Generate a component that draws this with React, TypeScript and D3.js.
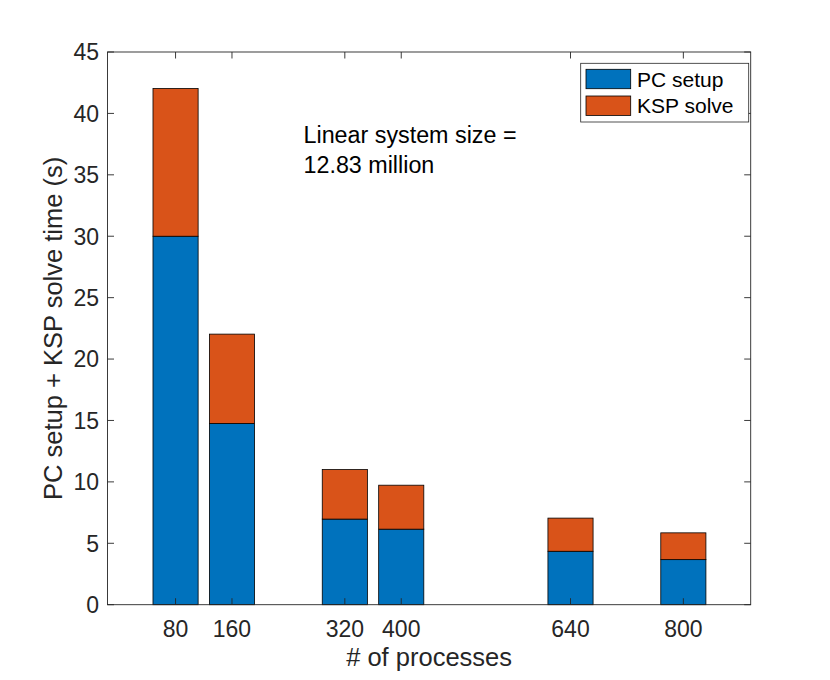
import * as d3 from "d3";
import React from "react";

const procs = [80, 160, 320, 400, 640, 800];
const pcSetup = [30, 14.75, 6.97, 6.15, 4.35, 3.67];
const kspSolve = [12.03, 7.28, 4.03, 3.58, 2.7, 2.18];
const seriesNames = ["PC setup", "KSP solve"];
const seriesColors = ["#0072BD", "#D95319"];
const yTicks = [0, 5, 10, 15, 20, 25, 30, 35, 40, 45];

const width = 830,
  height = 680;
const left = 107.5,
  right = 750.7,
  top = 52,
  bottom = 604.7;
const font = "'Liberation Sans', Arial, Helvetica, sans-serif";
const axisColor = "#262626";

const App: React.FC = () => {
  const x = d3.scaleLinear().domain([-16.5, 895.5]).range([left, right]);
  const y = d3.scaleLinear().domain([0, 45]).range([bottom, top]);
  const barW = x(64) - x(0);
  const tickLen = 6.5;

  const rows = procs.map((p, i) => ({ p, pc: pcSetup[i], ksp: kspSolve[i] }));
  const stacked = d3.stack<any>().keys(["pc", "ksp"])(rows);

  return (
    <svg
      width={width}
      height={height}
      style={{ position: "absolute", left: 0, top: 0, background: "#fff" }}
      fontFamily={font}
    >
      <rect x={left} y={top} width={right - left} height={bottom - top} fill="#fff" />

      {/* stacked bars */}
      {stacked.map((layer, li) =>
        layer.map((d, i) => (
          <rect
            key={`${li}-${i}`}
            x={x(procs[i]) - barW / 2}
            y={y(d[1])}
            width={barW}
            height={y(d[0]) - y(d[1])}
            fill={seriesColors[li]}
            stroke="#000"
            strokeWidth={0.8}
          />
        ))
      )}

      {/* box */}
      <rect
        x={left}
        y={top}
        width={right - left}
        height={bottom - top}
        fill="none"
        stroke={axisColor}
        strokeWidth={0.9}
      />

      {/* y ticks */}
      {yTicks.map((t) => (
        <g key={`y${t}`}>
          <line x1={left} x2={left + tickLen} y1={y(t)} y2={y(t)} stroke={axisColor} strokeWidth={0.9} />
          <line x1={right} x2={right - tickLen} y1={y(t)} y2={y(t)} stroke={axisColor} strokeWidth={0.9} />
          <text
            x={left - 8.5}
            y={y(t)}
            dy="0.36em"
            textAnchor="end"
            fontSize={23}
            fill={axisColor}
          >
            {t}
          </text>
        </g>
      ))}

      {/* x ticks */}
      {procs.map((t) => (
        <g key={`x${t}`}>
          <line x1={x(t)} x2={x(t)} y1={bottom} y2={bottom - tickLen} stroke={axisColor} strokeWidth={0.9} />
          <line x1={x(t)} x2={x(t)} y1={top} y2={top + tickLen} stroke={axisColor} strokeWidth={0.9} />
          <text x={x(t)} y={637} textAnchor="middle" fontSize={23} fill={axisColor}>
            {t}
          </text>
        </g>
      ))}

      {/* axis labels */}
      <text x={(left + right) / 2} y={666} textAnchor="middle" fontSize={25.5} fill={axisColor}>
        # of processes
      </text>
      <text
        transform={`translate(62,${(top + bottom) / 2}) rotate(-90)`}
        textAnchor="middle"
        fontSize={25.5}
        fill={axisColor}
      >
        PC setup + KSP solve time (s)
      </text>

      {/* annotation */}
      <text x={303.5} y={143.3} fontSize={23.3} fill="#000">
        Linear system size =
      </text>
      <text x={303.5} y={173.3} fontSize={23.3} fill="#000">
        12.83 million
      </text>

      {/* legend */}
      <rect x={580.7} y={63.3} width={168} height={58.7} fill="#fff" stroke={axisColor} strokeWidth={0.8} />
      {seriesNames.map((name, i) => (
        <g key={name}>
          <rect
            x={586}
            y={69.3 + i * 26.7}
            width={44.7}
            height={19.4}
            fill={seriesColors[i]}
            stroke="#000"
            strokeWidth={0.8}
          />
          <text x={637} y={79 + i * 26.7} dy="0.36em" fontSize={21} fill="#000">
            {name}
          </text>
        </g>
      ))}
    </svg>
  );
};

export default App;
